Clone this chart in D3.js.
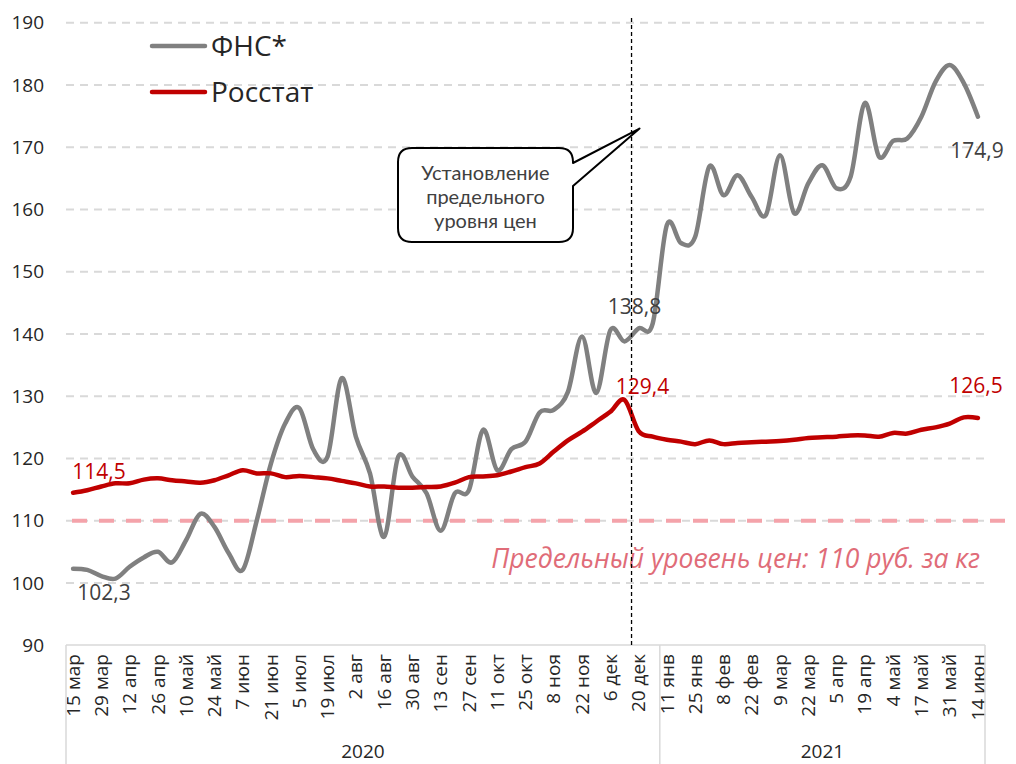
<!DOCTYPE html>
<html>
<head>
<meta charset="utf-8">
<script src="https://cdn.jsdelivr.net/npm/d3@7"></script>
<style>
  body { margin: 0; background: #fff; }
  svg { display: block; font-family: 'Open Sans', sans-serif; }
</style>
</head>
<body>
<div id="chart"></div>
<script>
// weekly points, every second week carries a label
const weekLabels = [
  '15 мар', '29 мар', '12 апр', '26 апр', '10 май', '24 май', '7 июн', '21 июн',
  '5 июл', '19 июл', '2 авг', '16 авг', '30 авг', '13 сен', '27 сен', '11 окт',
  '25 окт', '8 ноя', '22 ноя', '6 дек', '20 дек',
  '11 янв', '25 янв', '8 фев', '22 фев', '9 мар', '22 мар', '5 апр', '19 апр',
  '4 май', '17 май', '31 май', '14 июн'
];
const years = ['2020', '2021'];
const yearFirstWeek = [0, 42];

const fnsValues = [
  102.3, 102.1, 101.1, 100.7, 102.6, 104.1, 105.0, 103.3, 106.9, 111.1,
  109.0, 104.8, 102.1, 110.1, 119.2, 125.6, 128.1, 121.4, 120.3, 132.9,
  123.5, 117.6, 107.4, 120.3, 117.1, 114.4, 108.4, 114.4, 114.9, 124.6,
  118.1, 121.5, 122.7, 127.4, 127.8, 130.7, 139.6, 130.5, 140.6, 138.8,
  140.9, 141.7, 157.5, 154.6, 155.6, 166.9, 162.3, 165.5, 162.0, 159.1,
  168.7, 159.4, 164.2, 167.1, 163.4, 165.3, 177.1, 168.5, 171.0, 171.4,
  174.9, 180.5, 183.2, 180.3, 174.9
];
const rosstatValues = [
  114.5, 114.9, 115.5, 116.0, 116.0, 116.6, 116.8, 116.5, 116.3, 116.1,
  116.5, 117.3, 118.1, 117.6, 117.6, 117.0, 117.2, 117.0, 116.8, 116.4,
  116.0, 115.5, 115.5, 115.3, 115.3, 115.4, 115.5, 116.1, 117.0, 117.1,
  117.3, 117.9, 118.6, 119.2, 121.1, 122.9, 124.3, 125.9, 127.5, 129.4,
  124.4, 123.5, 123.0, 122.7, 122.3, 122.9, 122.3, 122.5, 122.6, 122.7,
  122.8, 123.0, 123.3, 123.4, 123.5, 123.7, 123.7, 123.5, 124.1, 124.0,
  124.6, 125.0, 125.6, 126.6, 126.5
];
const yTicks = [90, 100, 110, 120, 130, 140, 150, 160, 170, 180, 190];
const priceCap = 110;
const capWeek = 40;

const color = {
  fns: '#808080',
  rosstat: '#c00000',
  grid: '#d9d9d9',
  axisText: '#262626',
  grayLabel: '#404040',
  cap: '#f4a3aa',
  capText: '#e06c78'
};

const W = 1016, H = 764;
const svg = d3.select('#chart').append('svg')
  .attr('width', W)
  .attr('height', H);

const weeks = d3.range(fnsValues.length);

const x = d3.scaleBand()
  .domain(weeks)
  .range([66, 985]);
const cx = (i) => x(i) + x.bandwidth() / 2;

const y = d3.scaleLinear()
  .domain([90, 190])
  .range([645.2, 22.7]);

// grid
svg.append('g')
  .selectAll('line')
  .data(yTicks.filter((t) => t > 90))
  .enter()
  .append('line')
  .attr('x1', 66)
  .attr('x2', 985)
  .attr('y1', (d) => y(d))
  .attr('y2', (d) => y(d))
  .attr('stroke', color.grid)
  .attr('stroke-width', 2)
  .attr('stroke-dasharray', '8,6');

// y axis labels
const yAxis = svg.append('g')
  .attr('transform', 'translate(66,0)')
  .call(d3.axisLeft(y).tickValues(yTicks).tickSize(0).tickPadding(22));
yAxis.select('.domain').remove();
yAxis.selectAll('text')
  .style('font-family', 'Open Sans')
  .style('font-size', '19px')
  .attr('fill', color.axisText);

// x axis (weeks)
const xAxis = svg.append('g')
  .attr('transform', 'translate(0,645)')
  .call(d3.axisBottom(x)
    .tickValues(weeks.filter((i) => i % 2 === 0))
    .tickFormat((i) => weekLabels[i / 2])
    .tickSize(0));
xAxis.select('.domain').remove();
xAxis.selectAll('text')
  .attr('transform', 'rotate(-90)')
  .attr('x', -9)
  .attr('y', 0)
  .attr('dy', '0.35em')
  .style('text-anchor', 'end')
  .style('font-family', 'Open Sans')
  .style('font-size', '19px')
  .attr('fill', color.axisText);

// year grouping
svg.append('line')
  .attr('x1', 66).attr('x2', 985)
  .attr('y1', 645).attr('y2', 645)
  .attr('stroke', color.grid)
  .attr('stroke-width', 1.5);

const yearEdges = yearFirstWeek.map((i) => x(i)).concat([x(weeks.length - 1) + x.bandwidth()]);
svg.append('g')
  .selectAll('line')
  .data(yearEdges)
  .enter()
  .append('line')
  .attr('x1', (d) => d)
  .attr('x2', (d) => d)
  .attr('y1', 645)
  .attr('y2', H)
  .attr('stroke', color.grid)
  .attr('stroke-width', 1.5);

svg.append('g')
  .selectAll('text')
  .data(years)
  .enter()
  .append('text')
  .attr('x', (d, i) => (yearEdges[i] + yearEdges[i + 1]) / 2)
  .attr('y', 758)
  .attr('text-anchor', 'middle')
  .style('font-size', '19px')
  .attr('fill', color.axisText)
  .text((d) => d);

// price cap line
svg.append('line')
  .attr('x1', 72)
  .attr('x2', W)
  .attr('y1', y(priceCap))
  .attr('y2', y(priceCap))
  .attr('stroke', color.cap)
  .attr('stroke-width', 4)
  .attr('stroke-dasharray', '15,12');

svg.append('text')
  .attr('x', 980)
  .attr('y', 568)
  .attr('text-anchor', 'end')
  .style('font-size', '26.5px')
  .style('font-style', 'italic')
  .attr('fill', color.capText)
  .text('Предельный уровень цен: 110 руб. за кг');

// series
const line = d3.line()
  .x((d, i) => cx(i))
  .y((d) => y(d))
  .curve(d3.curveCardinal.tension(0));

svg.append('path')
  .datum(fnsValues)
  .attr('d', line)
  .attr('fill', 'none')
  .attr('stroke', color.fns)
  .attr('stroke-width', 4.5)
  .attr('stroke-linecap', 'round')
  .attr('stroke-linejoin', 'round');

svg.append('path')
  .datum(rosstatValues)
  .attr('d', line)
  .attr('fill', 'none')
  .attr('stroke', color.rosstat)
  .attr('stroke-width', 4.5)
  .attr('stroke-linecap', 'round')
  .attr('stroke-linejoin', 'round');

// marker for the cap date
const capX = x(capWeek);
svg.append('line')
  .attr('x1', capX).attr('x2', capX)
  .attr('y1', 18).attr('y2', 645)
  .attr('stroke', '#000')
  .attr('stroke-width', 1.3)
  .attr('stroke-dasharray', '4,3');

// value labels
const last = weeks.length - 1;
const valueLabels = [
  { i: 0, v: fnsValues[0], dx: 31, dy: 31, c: color.grayLabel },
  { i: 0, v: rosstatValues[0], dx: 26, dy: -14, c: color.rosstat },
  { i: 39, v: fnsValues[39], dx: 10, dy: -27, c: color.grayLabel },
  { i: 39, v: rosstatValues[39], dx: 18, dy: -6, c: color.rosstat },
  { i: last, v: rosstatValues[last], dx: -2, dy: -25, c: color.rosstat },
  { i: last, v: fnsValues[last], dx: -1, dy: 41, c: color.grayLabel }
];
svg.append('g')
  .selectAll('text')
  .data(valueLabels)
  .enter()
  .append('text')
  .attr('x', (d) => cx(d.i) + d.dx)
  .attr('y', (d) => y(d.v) + d.dy)
  .attr('text-anchor', 'middle')
  .style('font-size', '21px')
  .attr('fill', (d) => d.c)
  .text((d) => d3.format('.1f')(d.v).replace('.', ','));

// callout
const box = { x0: 398, y0: 148, x1: 573, y1: 242, r: 14 };
const tip = [capX + 8, y(173)];
svg.append('path')
  .attr('d', `M${box.x0 + box.r},${box.y0} H${box.x1 - box.r} Q${box.x1},${box.y0} ${box.x1},${box.y0 + box.r}
    V163 L${tip[0]},${tip[1]} L${box.x1},186
    V${box.y1 - box.r} Q${box.x1},${box.y1} ${box.x1 - box.r},${box.y1}
    H${box.x0 + box.r} Q${box.x0},${box.y1} ${box.x0},${box.y1 - box.r}
    V${box.y0 + box.r} Q${box.x0},${box.y0} ${box.x0 + box.r},${box.y0} Z`)
  .attr('fill', '#fff')
  .attr('stroke', '#000')
  .attr('stroke-width', 2)
  .attr('stroke-linejoin', 'round');

svg.append('g')
  .selectAll('text')
  .data(['Установление', 'предельного', 'уровня цен'])
  .enter()
  .append('text')
  .attr('x', (box.x0 + box.x1) / 2)
  .attr('y', (d, i) => 180 + i * 24)
  .attr('text-anchor', 'middle')
  .style('font-family', 'Lato')
  .style('font-size', '20px')
  .attr('fill', color.grayLabel)
  .text((d) => d);

// legend
const legend = svg.append('g')
  .selectAll('g')
  .data([{ name: 'ФНС*', c: color.fns }, { name: 'Росстат', c: color.rosstat }])
  .enter()
  .append('g')
  .attr('transform', (d, i) => `translate(152, ${46 + i * 46})`);

legend.append('line')
  .attr('x1', 0).attr('x2', 53)
  .attr('stroke', (d) => d.c)
  .attr('stroke-width', 4.5)
  .attr('stroke-linecap', 'round');

legend.append('text')
  .attr('x', 59)
  .attr('y', 10)
  .style('font-size', '28px')
  .attr('fill', '#262626')
  .text((d) => d.name);
</script>
</body>
</html>
